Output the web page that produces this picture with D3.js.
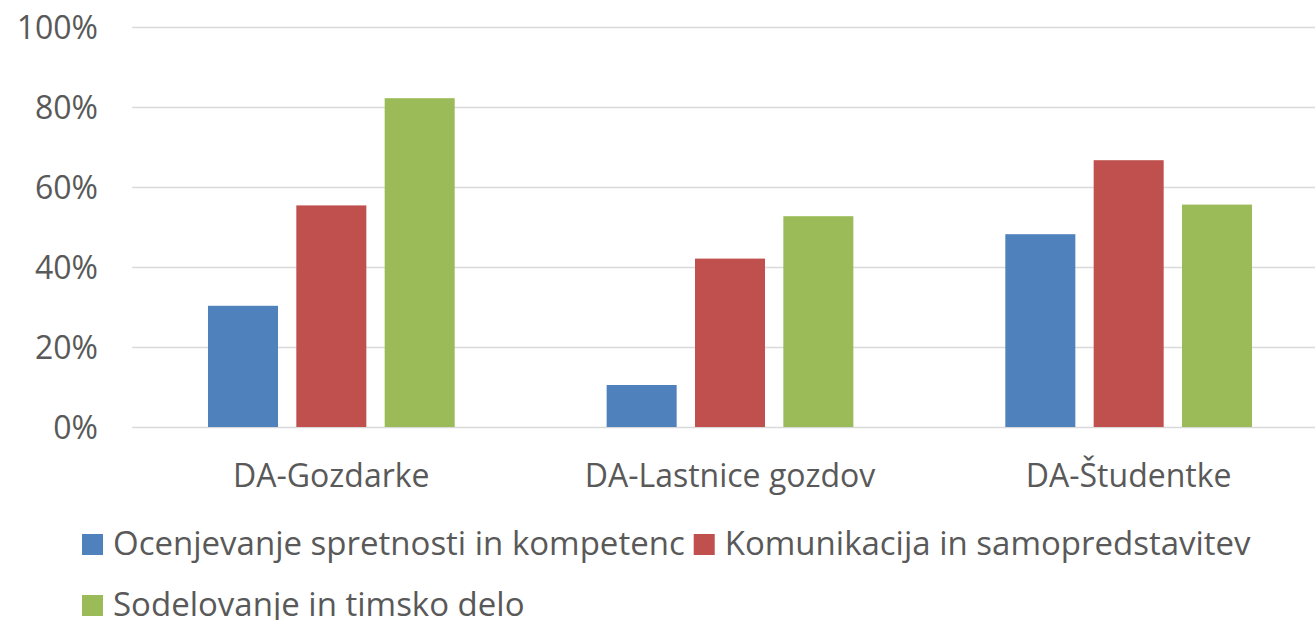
<!DOCTYPE html>
<html>
<head>
<meta charset="utf-8">
<script src="https://cdn.jsdelivr.net/npm/d3@7"></script>
<style>
  html, body { margin: 0; padding: 0; background: #fff; }
  svg { display: block; font-family: "Open Sans", sans-serif; }
</style>
</head>
<body>
<div id="container"></div>
<script>
/* global d3*/

const width = 1315;
const height = 620;

// data
const categories = ["DA-Gozdarke", "DA-Lastnice gozdov", "DA-Študentke"];
const seriesNames = [
  "Ocenjevanje spretnosti in kompetenc",
  "Komunikacija in samopredstavitev",
  "Sodelovanje in timsko delo"
];
const ocenjevanje = [0.303, 0.105, 0.482];
const komunikacija = [0.554, 0.421, 0.667];
const sodelovanje = [0.822, 0.527, 0.556];
const yTicks = [0, 0.2, 0.4, 0.6, 0.8, 1];
const colors = ["#4f81bd", "#c0504d", "#9bbb59"];

const seriesValues = [ocenjevanje, komunikacija, sodelovanje];
const rows = categories.map((c, i) => ({
  cat: c,
  vals: seriesNames.map((s, j) => ({ key: s, value: seriesValues[j][i], color: colors[j] }))
}));

const textColor = "#595959";
const fontSize = 32;

//create svg
const svg = d3
  .select("#container")
  .append("svg")
  .attr("width", width)
  .attr("height", height);

const xScale = d3.scaleBand(categories, [132, 1328]).padding(0);
const xInner = d3
  .scaleBand(seriesNames, [0, xScale.bandwidth()])
  .paddingInner(0.2075)
  .paddingOuter(0.86);
const yScale = d3.scaleLinear([0, 1], [427, 27]);

// gridlines + y labels
const yAx = svg
  .append("g")
  .attr("transform", "translate(132,0)")
  .call(
    d3.axisLeft(yScale)
      .tickValues(yTicks)
      .tickFormat(d3.format(".0%"))
      .tickSize(-(1328 - 132))
      .tickPadding(34)
  );
yAx.select(".domain").remove();
yAx.selectAll(".tick line").attr("stroke", "#d9d9d9").attr("stroke-width", 1.4);
yAx.selectAll(".tick text")
  .attr("fill", textColor)
  .attr("font-size", fontSize)
  .attr("font-family", "Open Sans")
  .attr("dy", "0.35em");

// bars
const groups = svg
  .selectAll("g.cat")
  .data(rows)
  .enter()
  .append("g")
  .attr("class", "cat")
  .attr("transform", (d) => `translate(${xScale(d.cat)},0)`);

groups
  .selectAll("rect")
  .data((d) => d.vals)
  .enter()
  .append("rect")
  .attr("x", (d) => xInner(d.key))
  .attr("width", xInner.bandwidth())
  .attr("y", (d) => yScale(d.value))
  .attr("height", (d) => yScale(0) - yScale(d.value))
  .attr("fill", (d) => d.color);

// x labels
const xAx = svg
  .append("g")
  .attr("transform", "translate(0,427)")
  .call(d3.axisBottom(xScale).tickSize(0).tickPadding(0));
xAx.select(".domain").remove();
xAx.selectAll(".tick text")
  .attr("fill", textColor)
  .attr("font-size", fontSize)
  .attr("font-family", "Open Sans")
  .attr("dy", 60);

// legend, wraps like the original (second row runs off the bottom edge there too)
const legend = svg.append("g");
const boxSize = 21;
let lx = 82;
let ly = 555;
seriesNames.forEach((name, i) => {
  const item = legend.append("g");
  const txt = item
    .append("text")
    .attr("x", boxSize + 10)
    .attr("y", 0)
    .attr("fill", textColor)
    .attr("font-size", 33)
    .text(name);
  const w = boxSize + 10 + txt.node().getComputedTextLength();
  if (lx + w > width - 10) {
    lx = 82;
    ly += 61;
  }
  item.attr("transform", `translate(${lx},${ly})`);
  item
    .insert("rect", "text")
    .attr("x", 0)
    .attr("y", -boxSize)
    .attr("width", boxSize)
    .attr("height", boxSize)
    .attr("fill", colors[i]);
  lx += w + 9;
});
</script>
</body>
</html>
